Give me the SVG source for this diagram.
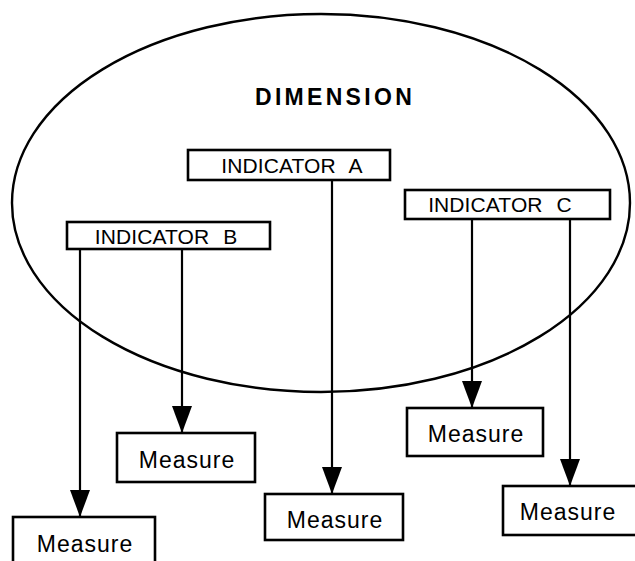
<svg xmlns="http://www.w3.org/2000/svg" width="635" height="561" viewBox="0 0 635 561">
<style>
.box{fill:#fff;stroke:#000;stroke-width:2.6}
.ind{font-family:"Liberation Sans",Arial,sans-serif;font-size:21px;letter-spacing:0.1px;word-spacing:8px;text-anchor:middle;fill:#000}
.meas{font-family:"Liberation Sans",Arial,sans-serif;font-size:23px;letter-spacing:1px;text-anchor:middle;fill:#000}
.conn{stroke:#000;stroke-width:2.2;fill:none;marker-end:url(#arr)}
</style>
<defs>
<marker id="arr" viewBox="0 0 27 20" refX="27" refY="10" markerWidth="27" markerHeight="20" markerUnits="userSpaceOnUse" orient="auto">
<path d="M0,0 L27,10 L0,20 z" fill="#000"/>
</marker>
</defs>
<rect width="635" height="561" fill="#fff"/>
<g id="dimension">
<ellipse cx="321" cy="203" rx="309" ry="189" fill="none" stroke="#000" stroke-width="2.4"/>
<text x="255" y="105" font-family="Liberation Sans, Arial, sans-serif" font-size="23" font-weight="bold" letter-spacing="3.3">DIMENSION</text>
</g>
<g id="connectors">
<line class="conn" x1="80" y1="249" x2="80" y2="517"/>
<line class="conn" x1="182" y1="249" x2="182" y2="433"/>
<line class="conn" x1="332" y1="180" x2="332" y2="494"/>
<line class="conn" x1="472" y1="219" x2="472" y2="408"/>
<line class="conn" x1="570" y1="219" x2="570" y2="486"/>
</g>
<g id="indicatorA">
<rect class="box" x="188" y="150" width="202" height="30"/>
<text class="ind" x="292" y="173">INDICATOR A</text>
</g>
<g id="indicatorC">
<rect class="box" x="405" y="190" width="205" height="29"/>
<text class="ind" x="500" y="212">INDICATOR C</text>
</g>
<g id="indicatorB">
<rect class="box" x="67" y="222" width="203" height="27"/>
<text class="ind" x="166" y="244">INDICATOR B</text>
</g>
<g id="measureB1">
<rect class="box" x="13" y="517" width="142" height="50"/>
<text class="meas" x="85" y="552">Measure</text>
</g>
<g id="measureB2">
<rect class="box" x="117" y="433" width="138" height="49"/>
<text class="meas" x="187" y="468">Measure</text>
</g>
<g id="measureA">
<rect class="box" x="265" y="494" width="138" height="46"/>
<text class="meas" x="335" y="528">Measure</text>
</g>
<g id="measureC1">
<rect class="box" x="407" y="408" width="136" height="48"/>
<text class="meas" x="476" y="442">Measure</text>
</g>
<g id="measureC2">
<rect class="box" x="503" y="486" width="140" height="49"/>
<text class="meas" x="568" y="520">Measure</text>
</g>
</svg>
